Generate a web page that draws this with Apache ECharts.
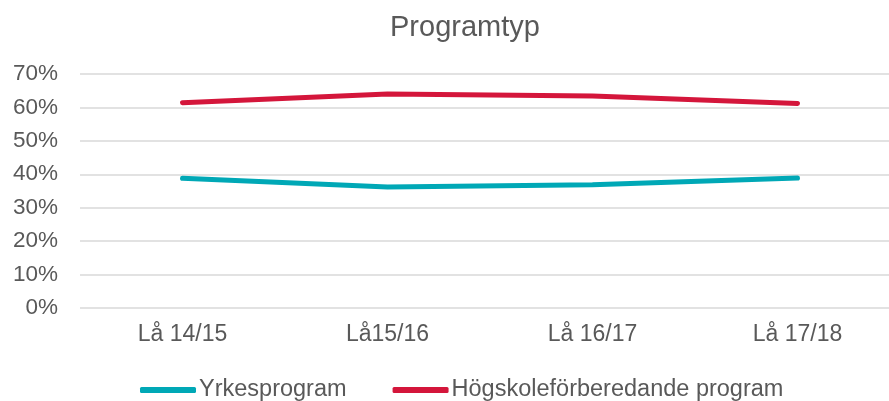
<!DOCTYPE html>
<html>
<head>
<meta charset="utf-8">
<script src="https://cdn.jsdelivr.net/npm/echarts@6/dist/echarts.min.js"></script>
<style>
	html, body { margin: 0; padding: 0; background: #fff; }
	#echart { width: 889px; height: 401px; }
</style>
</head>
<body>
<div id="echart"></div>
<script>
var categories = ['Lå 14/15', 'Lå15/16', 'Lå 16/17', 'Lå 17/18'];
var yrkes = [0.388, 0.362, 0.369, 0.389];
var hogskole = [0.614, 0.640, 0.634, 0.612];
var seriesNames = ['Yrkesprogram', 'Högskoleförberedande program'];

var myChart = echarts.init(document.getElementById('echart'));
var font = 'Liberation Sans, Arial, sans-serif';
myChart.setOption({
	animation: false,
	title: {
		text: 'Programtyp',
		left: 385,
		top: 8,
		textStyle: { fontFamily: font, fontSize: 29, fontWeight: 'normal', color: '#595959' }
	},
	legend: {
		data: seriesNames,
		top: 373,
		left: 135,
		icon: 'roundRect',
		itemWidth: 56,
		itemHeight: 6,
		itemGap: 46,
		textStyle: { fontFamily: font, fontSize: 23.5, color: '#595959', padding: [0, 0, 0, -2] }
	},
	grid: {
		left: 80,
		top: 74,
		width: 820,
		height: 234,
		outerBoundsMode: 'none'
	},
	xAxis: {
		type: 'category',
		data: categories,
		axisLine: { show: false },
		axisTick: { show: false },
		axisLabel: { fontFamily: font, fontSize: 23, color: '#595959', margin: 15 }
	},
	yAxis: {
		type: 'value',
		min: 0,
		max: 0.7,
		interval: 0.1,
		axisLabel: {
			fontFamily: font, fontSize: 22.5, color: '#595959', margin: 22,
			formatter: function (v) { return Math.round(v * 100) + '%'; }
		},
		splitLine: { lineStyle: { color: '#d9d9d9', width: 1.5 } }
	},
	series: [{
		name: seriesNames[0],
		type: 'line',
		data: yrkes,
		showSymbol: false,
		color: '#00a8b6',
		lineStyle: { width: 5, cap: 'round' }
	}, {
		name: seriesNames[1],
		type: 'line',
		data: hogskole,
		showSymbol: false,
		color: '#d4163b',
		lineStyle: { width: 5, cap: 'round' }
	}]
});
</script>
</body>
</html>
